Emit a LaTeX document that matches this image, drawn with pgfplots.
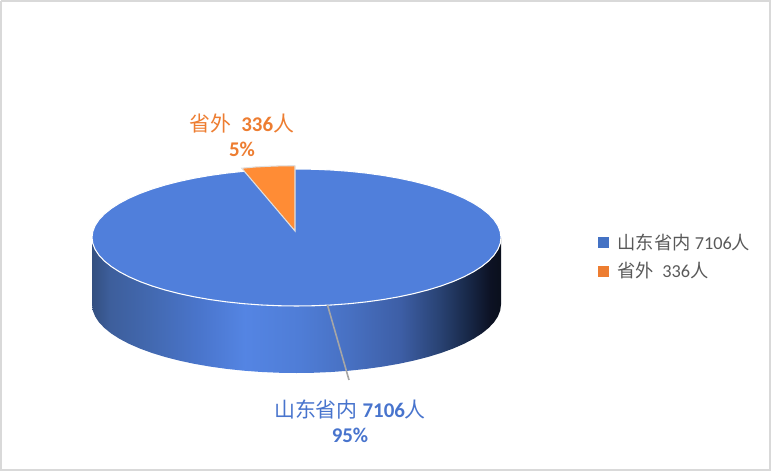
\documentclass[border=0pt]{standalone}
\usepackage{fontspec}
\setmainfont{Carlito}
\newfontfamily\cjk{Noto Sans CJK SC}
\usepackage{pgfplots}
\usepackage{pgfplotstable}
\pgfplotsset{compat=1.18}
\definecolor{topblue}{RGB}{80,127,219}
\definecolor{sliceorange}{RGB}{255,140,53}
\definecolor{lblue}{RGB}{68,114,196}
\definecolor{lorange}{RGB}{237,125,49}
\definecolor{labelblue}{RGB}{72,116,205}
\definecolor{legtext}{RGB}{89,89,89}
\definecolor{framegrey}{RGB}{217,217,217}
\pgfdeclarehorizontalshading{sideshade}{100bp}{
 rgb(0bp)=(0.20,0.31,0.50);
 rgb(25bp)=(0.20,0.31,0.50);
 rgb(27.2bp)=(0.24,0.37,0.61);
 rgb(32.1bp)=(0.26,0.41,0.69);
 rgb(38.2bp)=(0.29,0.46,0.80);
 rgb(43.7bp)=(0.33,0.52,0.89);
 rgb(50.4bp)=(0.31,0.49,0.84);
 rgb(56.5bp)=(0.28,0.44,0.76);
 rgb(62.7bp)=(0.24,0.37,0.65);
 rgb(67.5bp)=(0.16,0.26,0.45);
 rgb(71.2bp)=(0.09,0.15,0.27);
 rgb(73.7bp)=(0.05,0.07,0.14);
 rgb(75bp)=(0.04,0.06,0.11);
 rgb(100bp)=(0.04,0.06,0.11)}
% Outline of the disc's top face
\pgfplotstableread{
x y
92.00 237.50
92.78 231.53
95.11 225.60
98.97 219.77
104.33 214.07
111.16 208.55
119.40 203.25
128.98 198.21
139.84 193.47
151.90 189.06
165.05 185.03
179.20 181.39
194.25 178.18
210.07 175.42
226.56 173.13
243.57 171.33
260.99 170.04
278.68 169.26
296.50 169.00
314.32 169.26
332.01 170.04
349.43 171.33
366.44 173.13
382.93 175.42
398.75 178.18
413.80 181.39
427.95 185.03
441.10 189.06
453.16 193.47
464.02 198.21
473.60 203.25
481.84 208.55
488.67 214.07
494.03 219.77
497.89 225.60
500.22 231.53
501.00 237.50
500.22 243.47
497.89 249.40
494.03 255.23
488.67 260.93
481.84 266.45
473.60 271.75
464.02 276.79
453.16 281.53
441.10 285.94
427.95 289.97
413.80 293.61
398.75 296.82
382.93 299.58
366.44 301.87
349.43 303.67
332.01 304.96
314.32 305.74
296.50 306.00
278.68 305.74
260.99 304.96
243.57 303.67
226.56 301.87
210.07 299.58
194.25 296.82
179.20 293.61
165.05 289.97
151.90 285.94
139.84 281.53
128.98 276.79
119.40 271.75
111.16 266.45
104.33 260.93
98.97 255.23
95.11 249.40
92.78 243.47
92.00 237.50
}\topface
% Outline of the disc's visible side
\pgfplotstableread{
x y
92.00 237.50
92.78 243.47
95.11 249.40
98.97 255.23
104.33 260.93
111.16 266.45
119.40 271.75
128.98 276.79
139.84 281.53
151.90 285.94
165.05 289.97
179.20 293.61
194.25 296.82
210.07 299.58
226.56 301.87
243.57 303.67
260.99 304.96
278.68 305.74
296.50 306.00
314.32 305.74
332.01 304.96
349.43 303.67
366.44 301.87
382.93 299.58
398.75 296.82
413.80 293.61
427.95 289.97
441.10 285.94
453.16 281.53
464.02 276.79
473.60 271.75
481.84 266.45
488.67 260.93
494.03 255.23
497.89 249.40
500.22 243.47
501.00 237.50
501.00 304.50
500.22 310.47
497.89 316.40
494.03 322.23
488.67 327.93
481.84 333.45
473.60 338.75
464.02 343.79
453.16 348.53
441.10 352.94
427.95 356.97
413.80 360.61
398.75 363.82
382.93 366.58
366.44 368.87
349.43 370.67
332.01 371.96
314.32 372.74
296.50 373.00
278.68 372.74
260.99 371.96
243.57 370.67
226.56 368.87
210.07 366.58
194.25 363.82
179.20 360.61
165.05 356.97
151.90 352.94
139.84 348.53
128.98 343.79
119.40 338.75
111.16 333.45
104.33 327.93
98.97 322.23
95.11 316.40
92.78 310.47
92.00 304.50
92.00 237.50
}\sideface
% The 336 slice, pulled out a little
\pgfplotstableread{
x y
295.0 165.7
281.5 165.85
268.0 166.3
255.0 167.0
241.7 168.2
295.0 231.0
295.0 165.7
}\sliceface
\begin{document}
\begin{tikzpicture}
\begin{axis}[
  scale only axis, width=578.25pt, height=353.25pt,
  xmin=0, xmax=771, ymin=0, ymax=471, y dir=reverse,
  hide axis, clip=false,
  legend style={at={(axis cs:598,232)}, anchor=north west, draw=none, fill=none,
    font=\fontsize{13.7pt}{15pt}\selectfont\color{legtext}, row sep=6.6pt,
    inner sep=0pt, nodes={inner sep=1pt}},
  legend cell align=left,
]
\addplot[draw=framegrey, line width=1.5pt, forget plot] coordinates {(1,1) (770,1) (770,470) (1,470) (1,1)};
\addplot[draw=none, shade, shading=sideshade, forget plot] table[x=x,y=y] {\sideface};
\addplot[draw=white, line width=0.8pt, fill=topblue, forget plot] table[x=x,y=y] {\topface};
\addplot[draw=white!88!black, line width=0.8pt, fill=sliceorange, forget plot] table[x=x,y=y] {\sliceface};
\addplot[draw=black!35, line width=1.2pt, forget plot] coordinates {(327.5,305) (349,380)};
\addlegendimage{only marks, mark=square*, mark size=3.75pt, mark options={draw=lblue, fill=lblue, line width=0pt}}
\addlegendentry{\hspace*{6pt}{\cjk 山东省内} 7106{\cjk 人}}
\addlegendimage{only marks, mark=square*, mark size=3.75pt, mark options={draw=lorange, fill=lorange, line width=0pt}}
\addlegendentry{\hspace*{6pt}{\cjk 省外}\ \ 336{\cjk 人}}
\node[text=lorange, font=\fontsize{15.7pt}{18pt}\selectfont\bfseries, align=center] at (axis cs:242,135) {{\cjk\mdseries 省外}\ \ 336{\cjk\mdseries 人}\\[1pt]5\%};
\node[text=labelblue, font=\fontsize{15.7pt}{18pt}\selectfont\bfseries, align=center] at (axis cs:350,421) {{\cjk\mdseries 山东省内} 7106{\cjk\mdseries 人}\\[0.5pt]95\%};
\end{axis}
\end{tikzpicture}
\end{document}
